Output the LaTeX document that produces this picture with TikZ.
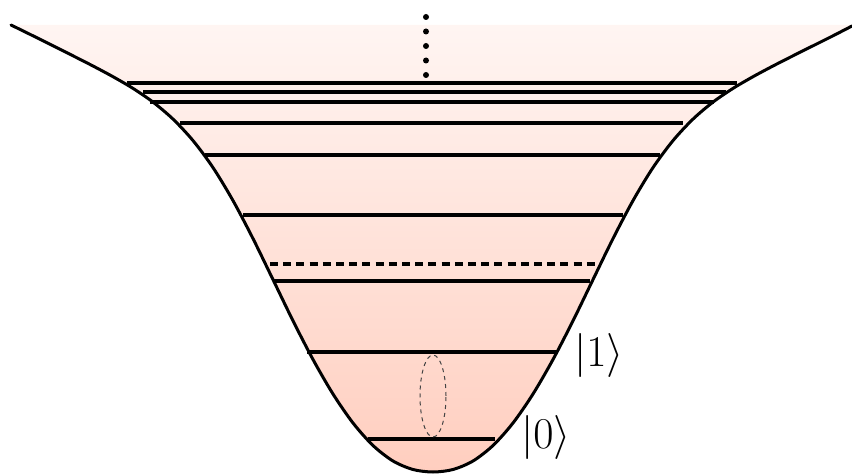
\RequirePackage{fix-cm}
\documentclass[tikz,border=0pt]{standalone}
\usepackage{xcolor}
\definecolor{Blush}{HTML}{FFF5F2}
\definecolor{Salmon}{HTML}{FFCEBF}
\definecolor{Smoke}{HTML}{444444}
\colorlet{palepink}{Blush}
\colorlet{wellpink}{Salmon}
\colorlet{smoke}{Smoke}
\usepackage{amsmath}
\usepackage{tikz}
\usetikzlibrary{calc}

\begin{document}
\begin{tikzpicture}[x=0.5pt,y=-0.5pt, every node/.style={font=\fontsize{22}{26}\selectfont,inner sep=1pt},
  level/.style={line width=1.8pt}, wall/.style={line width=1.5pt,line cap=round}]
\useasboundingbox (0,0) rectangle (852,476);
\def\wellpath{(11,25) (33,35.8) (53,45.8) (73,55.8) (93,66) (113,76.7) (133,88.4) (153,102.1) (173,119.1) (193,140.6) (213,167.6) (233,200.6) (253,238.6) (273,279.6) (293,320.8) (313,359.5) (333,394) (353,423) (373,445.5) (393,461) (413,469.5) (433,472) (453,469.5) (473,461) (493,445.5) (513,423) (533,394) (553,359.5) (573,320.8) (593,279.6) (613,238.6) (633,200.6) (653,167.6) (673,140.6) (693,119.1) (713,102.1) (733,88.4) (753,76.7) (773,66) (793,55.8) (813,45.8) (833,35.8) (852,26)}
% well
\path[top color=palepink,bottom color=wellpink] plot[smooth] coordinates {\wellpath} -- (852,25) -- (11,25) -- cycle;
% levels
\foreach \y/\a/\b in {83/127/737, 92/143/726, 102/150/714, 123/180/683, 155/205/660, 215/243/623, 281/273/590, 352/307/558, 439/368/495}
  \draw[level] (\a,\y) -- (\b,\y);
\draw[level,dash pattern=on 4pt off 2.6pt] (270,264) -- (595,264);
\draw[wall] plot[smooth] coordinates {\wellpath};
% continuum
\coordinate (dtop) at (426,17); \coordinate (dbot) at (426,76);
\draw[line width=3pt,line cap=round,dash pattern=on 0pt off 7.25pt] (dtop) -- (dbot);
\coordinate (qb) at (433,396);
\draw[smoke,line width=0.5pt,dash pattern=on 2pt off 2pt] (qb) ellipse [x radius=6.5pt, y radius=20.5pt];
\node (ket1) at (599,355) {$|1\rangle$};
\node (ket0) at (546,437) {$|0\rangle$};
\end{tikzpicture}
\end{document}
